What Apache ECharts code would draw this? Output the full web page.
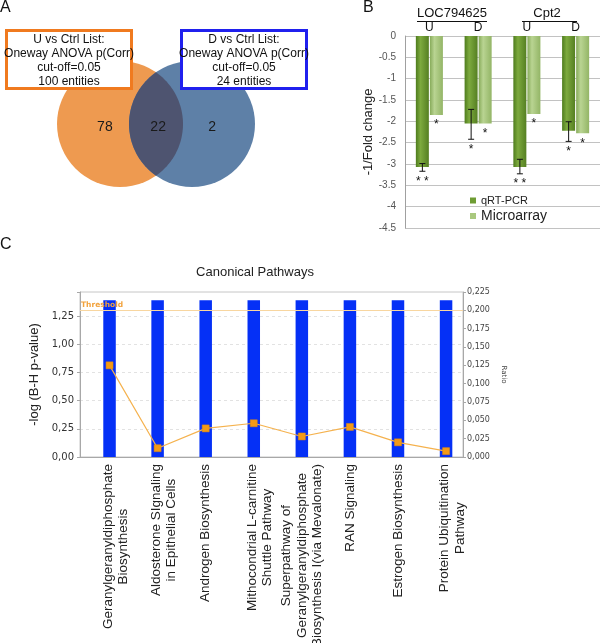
<!DOCTYPE html>
<html><head><meta charset="utf-8">
<script src="https://cdn.jsdelivr.net/npm/echarts@6/dist/echarts.min.js"></script>
<style>html,body{margin:0;padding:0;background:#fff}#c{width:600px;height:643px}</style>
</head><body><div id="c"></div>
<script>
// ---------- Panel A : Venn ----------
const vennTitles = ['U vs Ctrl List:', 'D vs Ctrl List:'];
const vennTests = ['Oneway ANOVA p(Corr)', 'Oneway ANOVA p(Corr)'];
const vennCutoffs = ['cut-off=0.05', 'cut-off=0.05'];
const vennEntities = [100, 24];
const vennCounts = [78, 22, 2]; // U only, shared, D only

// ---------- Panel B : qRT-PCR vs microarray ----------
const geneGroups = ['LOC794625', 'Cpt2'];
const conditions = ['U', 'D', 'U', 'D'];
const qrtValues = [-3.07, -2.05, -3.07, -2.22];
const qrtErrHigh = [-2.99, -1.72, -2.89, -2.01];
const qrtErrLow = [-3.17, -2.42, -3.23, -2.47];
const microValues = [-1.85, -2.05, -1.83, -2.28];
const qrtStars = ['**', '*', '**', '*'];
const microStars = ['*', '*', '*', '*'];

// ---------- Panel C : Canonical pathways ----------
const pathways = [
  'Geranylgeranyldiphosphate\nBiosynthesis',
  'Aldosterone SIgnaling\nin Epithelial Cells',
  'Androgen Biosynthesis',
  'Mithocondrial L-carnitine\nShuttle Pathway',
  'Superpathway of\nGeranylgeranyldiphosphate\nBiosynthesis I(via Mevalonate)',
  'RAN Signaling',
  'Estrogen Biosynthesis',
  'Protein Ubiquitination\nPathway'
];
const logP = [1.39, 1.39, 1.39, 1.39, 1.39, 1.39, 1.39, 1.39];
const ratios = [0.125, 0.012, 0.039, 0.046, 0.028, 0.041, 0.020, 0.008];
const threshold = 1.3;

const FONT = '"Liberation Sans", Arial, sans-serif';
const DJ = '"DejaVu Sans", Verdana, sans-serif';
const comma = (v, d) => v.toFixed(d).replace('.', ',');

const chart = echarts.init(document.getElementById('c'));
const G = echarts.graphic.LinearGradient;
const qrtGrad = new G(0, 0, 1, 0, [{offset: 0, color: '#4E7C1D'}, {offset: 0.35, color: '#7DAA3E'}, {offset: 1, color: '#557F22'}]);
const microGrad = new G(0, 0, 1, 0, [{offset: 0, color: '#87AB5A'}, {offset: 0.35, color: '#B9D492'}, {offset: 1, color: '#93B566'}]);

function vennRender(params, api) {
  const c1 = api.coord([0, 0]), c2 = api.coord([1, 0]);
  const r = api.size([0.875, 0])[0];
  const d = c2[0] - c1[0];
  const a = Math.acos((d / 2) / r);
  const pts = [];
  const N = 60;
  for (let i = 0; i <= N; i++) {
    const t = -a + 2 * a * i / N;
    pts.push([c1[0] + r * Math.cos(t), c1[1] + r * Math.sin(t)]);
  }
  for (let i = 0; i <= N; i++) {
    const t = Math.PI - a + 2 * a * i / N;
    pts.push([c2[0] + r * Math.cos(t), c2[1] + r * Math.sin(t)]);
  }
  const txt = (s, x) => ({type: 'text', style: {text: String(s), x: x, y: c1[1] + 3, textAlign: 'center', textVerticalAlign: 'middle', font: '14px ' + FONT, fill: '#1a1a1a'}});
  return {type: 'group', children: [
    {type: 'circle', shape: {cx: c1[0], cy: c1[1], r: r}, style: {fill: '#EE9A50'}},
    {type: 'circle', shape: {cx: c2[0], cy: c2[1], r: r}, style: {fill: '#5E80A7'}},
    {type: 'polygon', shape: {points: pts}, style: {fill: '#4E5470'}},
    txt(vennCounts[0], api.coord([-0.21, 0])[0]),
    txt(vennCounts[1], api.coord([0.53, 0])[0]),
    txt(vennCounts[2], api.coord([1.28, 0])[0])
  ]};
}

function errRender(params, api) {
  const i = api.value(0);
  const cx = api.coord([i, 0])[0] - 7;
  const yh = api.coord([i, api.value(1)])[1];
  const yl = api.coord([i, api.value(2)])[1];
  const ls = {stroke: '#111', lineWidth: 1};
  return {type: 'group', children: [
    {type: 'line', shape: {x1: cx, y1: yh, x2: cx, y2: yl}, style: ls},
    {type: 'line', shape: {x1: cx - 3, y1: yh, x2: cx + 3, y2: yh}, style: ls},
    {type: 'line', shape: {x1: cx - 3, y1: yl, x2: cx + 3, y2: yl}, style: ls}
  ]};
}

function starRender(params, api) {
  const i = api.value(0);
  const cx = api.coord([i, 0])[0];
  const y1 = api.coord([i, api.value(1)])[1] + 4;
  const y2 = api.coord([i, api.value(2)])[1] + 4;
  const k = params.dataIndex;
  const mk = (s, x, y) => ({type: 'text', style: {text: s.length > 1 ? '* *' : '*', x: x, y: y, textAlign: 'center', textVerticalAlign: 'top', font: '12px ' + FONT, fill: '#111'}});
  return {type: 'group', children: [mk(qrtStars[k], cx - 7, y1), mk(microStars[k], cx + 7, y2)]};
}

const labelFmt = v => v.split('\n').map(s => '{c|' + s + '}').join('\n');

const option = {
  animation: false,
  backgroundColor: '#fff',
  textStyle: {fontFamily: FONT},
  legend: {
    orient: 'vertical', left: 465, top: 190, itemWidth: 6, itemHeight: 6, itemGap: 3, icon: 'rect',
    textStyle: {color: '#222', fontFamily: FONT},
    data: [
      {name: 'qRT-PCR', textStyle: {fontSize: 11}, itemStyle: {color: '#6E9C33'}},
      {name: 'Microarray', textStyle: {fontSize: 14}, itemStyle: {color: '#A9C87E'}}
    ]
  },
  grid: [
    {left: 48, top: 60, width: 216, height: 128, outerBoundsMode: 'none'},
    {left: 405, top: 36, width: 195, height: 192, outerBoundsMode: 'none'},
    {left: 80, top: 292, width: 383, height: 165, show: true, borderColor: '#c6c6c6', borderWidth: 1, outerBoundsMode: 'none'},
    {left: 85.5, top: 292, width: 384.6, height: 165, outerBoundsMode: 'none'}
  ],
  xAxis: [
    {gridIndex: 0, type: 'value', min: -1, max: 2, show: false},
    {gridIndex: 1, type: 'category', position: 'top', data: conditions,
      axisLine: {show: false}, axisTick: {show: false},
      axisLabel: {margin: 2, fontSize: 12, color: '#111', fontFamily: FONT}},
    {gridIndex: 2, type: 'category', data: pathways, axisLine: {show: true, lineStyle: {color: '#a8a8a8'}},
      axisTick: {show: false}, axisLabel: {show: false}},
    {gridIndex: 3, type: 'category', data: pathways.map(p => p.split('\n').length === 2 ? {value: p, textStyle: {padding: [12, 0, 0, 0]}} : p),
      axisLine: {show: false}, axisTick: {show: false},
      axisLabel: {interval: 0, rotate: 90, margin: 7, formatter: labelFmt,
        rich: {c: {align: 'center', fontSize: 13.5, lineHeight: 15.5, color: '#222', fontFamily: FONT}}}}
  ],
  yAxis: [
    {gridIndex: 0, type: 'value', min: -1, max: 1, show: false},
    {gridIndex: 1, type: 'value', min: -4.5, max: 0, interval: 0.5,
      axisLine: {show: true, lineStyle: {color: '#a0a0a0'}}, axisTick: {show: false},
      axisLabel: {fontSize: 10, color: '#555', margin: 9, fontFamily: FONT},
      splitLine: {lineStyle: {color: '#c2c2c2'}},
      name: '-1/Fold change', nameLocation: 'middle', nameGap: 27, nameRotate: 90,
      nameTextStyle: {fontSize: 13, color: '#222', fontFamily: FONT}},
    {gridIndex: 2, type: 'value', position: 'left', min: 0, max: 1.4625, interval: 0.25,
      axisLine: {show: true, lineStyle: {color: '#a8a8a8'}},
      axisTick: {show: true, length: 3, lineStyle: {color: '#a8a8a8'}},
      axisLabel: {fontSize: 10, color: '#333', margin: 6, fontFamily: DJ,
        formatter: v => Math.abs(v / 0.25 - Math.round(v / 0.25)) < 1e-6 ? comma(v, 2) : ''},
      splitLine: {lineStyle: {color: '#e2e2e2', type: [3, 3]}},
      name: '-log (B-H p-value)', nameLocation: 'middle', nameGap: 34, nameRotate: 90,
      nameTextStyle: {fontSize: 13, color: '#222', fontFamily: FONT}},
    {gridIndex: 2, type: 'value', position: 'right', min: 0, max: 0.225, interval: 0.025,
      axisLine: {show: true, lineStyle: {color: '#a8a8a8'}},
      axisTick: {show: true, length: 3, lineStyle: {color: '#a8a8a8'}},
      axisLabel: {fontSize: 8, color: '#444', margin: 4, fontFamily: DJ, formatter: v => comma(v, 3)},
      splitLine: {show: false},
      name: 'Ratio', nameLocation: 'middle', nameGap: 33, nameRotate: -90,
      nameTextStyle: {fontSize: 7, color: '#444', fontFamily: DJ}},
    {gridIndex: 3, type: 'value', min: 0, max: 1.4625, show: false},
    {gridIndex: 3, type: 'value', min: 0, max: 0.225, show: false}
  ],
  graphic: [
    {type: 'text', left: 0, top: 0, style: {text: 'A', font: '16px ' + FONT, fill: '#111'}},
    {type: 'text', left: 363, top: 0, style: {text: 'B', font: '16px ' + FONT, fill: '#111'}},
    {type: 'text', left: 0, top: 237, style: {text: 'C', font: '16px ' + FONT, fill: '#111'}},
    {type: 'text', x: 452, y: 13, style: {text: geneGroups[0], font: '13px ' + FONT, fill: '#111', textAlign: 'center', textVerticalAlign: 'middle'}},
    {type: 'text', x: 547, y: 13, style: {text: geneGroups[1], font: '13px ' + FONT, fill: '#111', textAlign: 'center', textVerticalAlign: 'middle'}},
    {type: 'line', shape: {x1: 417, y1: 21.5, x2: 487, y2: 21.5}, style: {stroke: '#111', lineWidth: 1}},
    {type: 'line', shape: {x1: 522, y1: 21.5, x2: 577, y2: 21.5}, style: {stroke: '#111', lineWidth: 1}},
    {type: 'text', x: 255, y: 272, style: {text: 'Canonical Pathways', font: '13px ' + FONT, fill: '#222', textAlign: 'center', textVerticalAlign: 'middle'}},
    {type: 'rect', z: 100, shape: {x: 6.5, y: 30.5, width: 125, height: 58}, style: {fill: '#fff', stroke: '#F07A1F', lineWidth: 3}},
    {type: 'rect', z: 100, shape: {x: 181.5, y: 30.5, width: 125, height: 58}, style: {fill: '#fff', stroke: '#2020EE', lineWidth: 3}},
    {type: 'text', z: 101, x: 69, y: 61, style: {text: [vennTitles[0], vennTests[0], vennCutoffs[0], vennEntities[0] + ' entities'].join('\n'), font: '12px ' + FONT, lineHeight: 14, fill: '#111', textAlign: 'center', textVerticalAlign: 'middle'}},
    {type: 'text', z: 101, x: 244, y: 61, style: {text: [vennTitles[1], vennTests[1], vennCutoffs[1], vennEntities[1] + ' entities'].join('\n'), font: '12px ' + FONT, lineHeight: 14, fill: '#111', textAlign: 'center', textVerticalAlign: 'middle'}}
  ],
  series: [
    {type: 'custom', xAxisIndex: 0, yAxisIndex: 0, data: [[0, 0]], renderItem: vennRender, silent: true},
    {type: 'bar', name: 'qRT-PCR', xAxisIndex: 1, yAxisIndex: 1, data: qrtValues, barWidth: 13, barGap: '8%', itemStyle: {color: qrtGrad}},
    {type: 'bar', name: 'Microarray', xAxisIndex: 1, yAxisIndex: 1, data: microValues, barWidth: 13, barGap: '8%', itemStyle: {color: microGrad}},
    {type: 'custom', xAxisIndex: 1, yAxisIndex: 1, z: 5, renderItem: errRender, data: conditions.map((c, i) => [i, qrtErrHigh[i], qrtErrLow[i]])},
    {type: 'custom', xAxisIndex: 1, yAxisIndex: 1, z: 5, renderItem: starRender, data: conditions.map((c, i) => [i, qrtErrLow[i], microValues[i]])},
    {type: 'line', xAxisIndex: 2, yAxisIndex: 2, data: pathways.map(() => null), symbol: 'none',
      markLine: {silent: true, symbol: 'none', data: [{yAxis: threshold}],
        lineStyle: {color: '#F8D6A0', type: 'solid', width: 1},
        label: {show: true, position: 'insideStartTop', formatter: 'Threshold', color: '#F2A23C', fontSize: 7.5, fontWeight: 'bold', fontFamily: DJ, distance: 1}}},
    {type: 'bar', xAxisIndex: 3, yAxisIndex: 4, data: logP, barWidth: 12.5, itemStyle: {color: '#0530F6'}},
    {type: 'line', xAxisIndex: 3, yAxisIndex: 5, data: ratios, symbol: 'rect', symbolSize: 7,
      lineStyle: {color: '#F5B24E', width: 1.2}, itemStyle: {color: '#F39A16', borderColor: '#E08A10', borderWidth: 0.5}}
  ]
};
chart.setOption(option);
</script>
</body></html>
